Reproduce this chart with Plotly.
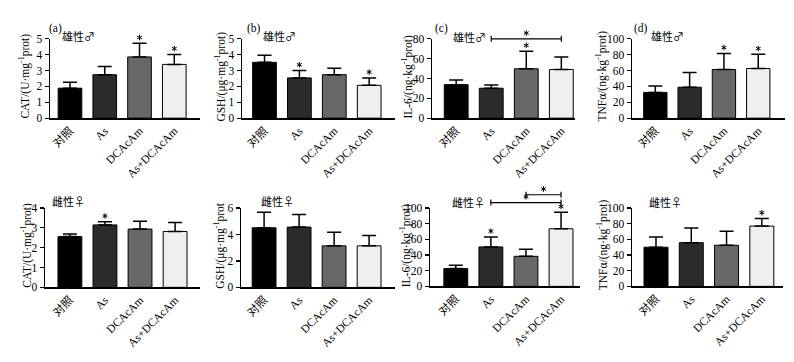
import plotly.graph_objects as go

# ---------------- data ----------------
categories = ["对照", "As", "DCAcAm", "As+DCAcAm"]

male_cat_mean = [1.89, 2.74, 3.86, 3.39]
male_cat_err = [0.37, 0.51, 0.86, 0.63]
male_cat_sig = [0, 0, 1, 1]

male_gsh_mean = [3.52, 2.54, 2.74, 2.07]
male_gsh_err = [0.44, 0.46, 0.41, 0.47]
male_gsh_sig = [0, 1, 0, 1]

male_il6_mean = [33.8, 30.2, 49.8, 49.1]
male_il6_err = [4.6, 3.3, 17.8, 12.7]
male_il6_sig = [0, 0, 1, 0]
male_il6_brackets = [(1, 3, 80)]

male_tnf_mean = [32.5, 39.0, 61.4, 62.6]
male_tnf_err = [8.2, 18.7, 20.3, 17.9]
male_tnf_sig = [0, 0, 1, 1]

female_cat_mean = [2.56, 3.15, 2.94, 2.82]
female_cat_err = [0.13, 0.16, 0.39, 0.45]
female_cat_sig = [0, 1, 0, 0]

female_gsh_mean = [4.51, 4.56, 3.14, 3.14]
female_gsh_err = [1.18, 0.95, 1.03, 0.78]
female_gsh_sig = [0, 0, 0, 0]

female_il6_mean = [22.7, 50.4, 38.4, 73.6]
female_il6_err = [4.2, 12.8, 9.1, 21.0]
female_il6_sig = [0, 1, 0, 1]
female_il6_brackets = [(1, 3, 107), (2, 3, 117)]

female_tnf_mean = [50.0, 55.8, 52.5, 77.0]
female_tnf_err = [12.9, 18.8, 17.9, 9.7]
female_tnf_sig = [0, 0, 0, 1]

bar_colors = ["#000000", "#2b2b2b", "#686868", "#efefef"]

male_label = "雄性♂"
female_label = "雌性♀"

# ---------------- layout constants ----------------
W, H = 794, 362
def px(x): return x / W
def py(y): return 1 - y / H

SERIF = "Liberation Serif, Noto Sans CJK SC"
CJK = "Noto Sans CJK SC"
STAR_GAP = 6  # px between error-bar top / bracket and star centre
STAR_PATH = "M0,-2.8L0,2.8M-2.4,-1.4L2.4,1.4M-2.4,1.4L2.4,-1.4"  # 6-arm asterisk, px

panels = [
    dict(mean=male_cat_mean, err=male_cat_err, sig=male_cat_sig, br=[],
         ytitle="CAT/(U·mg<sup>-1</sup>prot)", yr=[0, 5], dt=1,
         box=(50, 200, 34, 116), xr=[-0.575, 3.74], tx=25, tag="(a)", tagx=47,
         sex=male_label, sexx=60, sexy=31),
    dict(mean=male_gsh_mean, err=male_gsh_err, sig=male_gsh_sig, br=[],
         ytitle="GSH/(μg·mg<sup>-1</sup>prot)", yr=[0, 5], dt=1,
         box=(242, 395, 34, 116), xr=[-0.645, 3.74], tx=221, tag="(b)", tagx=245,
         sex=male_label, sexx=261, sexy=31),
    dict(mean=male_il6_mean, err=male_il6_err, sig=male_il6_sig, br=male_il6_brackets,
         ytitle="IL-6/(ng·kg<sup>-1</sup>prot)", yr=[0, 80], dt=20,
         box=(432, 575, 34, 116), xr=[-0.69, 3.39], tx=408, tag="(c)", tagx=433,
         sex=male_label, sexx=451, sexy=32),
    dict(mean=male_tnf_mean, err=male_tnf_err, sig=male_tnf_sig, br=[],
         ytitle="TNFα/(ng·kg<sup>-1</sup>prot)", yr=[0, 100], dt=20,
         box=(632, 785, 34, 116), xr=[-0.68, 3.78], tx=602, tag="(d)", tagx=632,
         sex=male_label, sexx=649, sexy=31),
    dict(mean=female_cat_mean, err=female_cat_err, sig=female_cat_sig, br=[],
         ytitle="CAT/(U·mg<sup>-1</sup>prot)", yr=[0, 4], dt=1,
         box=(45, 200, 209, 291), xr=[-0.71, 3.71], tx=27, tag=None, tagx=0,
         sex=female_label, sexx=50, sexy=202),
    dict(mean=female_gsh_mean, err=female_gsh_err, sig=female_gsh_sig, br=[],
         ytitle="GSH/(μg·mg<sup>-1</sup>prot", yr=[0, 6], dt=2,
         box=(241, 395, 209, 291), xr=[-0.66, 3.74], tx=220, tag=None, tagx=0,
         sex=female_label, sexx=259, sexy=202),
    dict(mean=female_il6_mean, err=female_il6_err, sig=female_il6_sig, br=female_il6_brackets,
         ytitle="IL-6/(ng·kg<sup>-1</sup>prot)", yr=[0, 100], dt=20,
         box=(430, 580, 209, 290), xr=[-0.735, 3.54], tx=405, tag=None, tagx=0,
         sex=female_label, sexx=450, sexy=203),
    dict(mean=female_tnf_mean, err=female_tnf_err, sig=female_tnf_sig, br=[],
         ytitle="TNFα/(ng·kg<sup>-1</sup>prot)", yr=[0, 100], dt=20,
         box=(632, 783, 209, 290), xr=[-0.68, 3.6], tx=602, tag=None, tagx=0,
         sex=female_label, sexx=647, sexy=203),
]

fig = go.Figure()
annotations = []
shapes = []
xidx = list(range(len(categories)))

for i, p in enumerate(panels):
    n = "" if i == 0 else str(i + 1)
    xa, ya = "x" + n, "y" + n
    x0, x1, yt, yb = p["box"]
    yr0, yr1 = p["yr"]
    xr0, xr1 = p["xr"]
    frac_per_px = 1.0 / (yb - yt)

    fig.add_trace(go.Bar(
        x=xidx, y=p["mean"], xaxis=xa, yaxis=ya,
        marker=dict(color=bar_colors, line=dict(color="#000000", width=1)),
        width=0.68,
        error_y=dict(type="data", symmetric=False, array=p["err"],
                     arrayminus=[0] * len(p["err"]),
                     color="#000000", thickness=1.5, width=7),
        showlegend=False, hoverinfo="skip",
    ))
    fig.layout["xaxis" + n] = dict(
        domain=[px(x0), px(x1)], anchor=ya, range=p["xr"],
        tickmode="array", tickvals=xidx, ticktext=categories,
        showline=True, linecolor="#000000", linewidth=1.5, ticks="",
        tickangle=-45, tickfont=dict(family=SERIF, size=11.5, color="#000000"),
        showgrid=False, zeroline=False, fixedrange=True,
    )
    fig.layout["yaxis" + n] = dict(
        domain=[py(yb), py(yt)], anchor=xa, range=p["yr"], dtick=p["dt"], tick0=0,
        showline=True, linecolor="#000000", linewidth=1.5, ticks="outside",
        ticklen=4, tickwidth=1.2, tickcolor="#000000",
        tickfont=dict(family=SERIF, size=11.5, color="#000000"),
        showgrid=False, zeroline=False, fixedrange=True,
    )
    # y-axis title
    annotations.append(dict(
        text=p["ytitle"], textangle=-90, xref="paper", yref="paper",
        x=px(p["tx"]), y=py((yt + yb) / 2 - 2), xanchor="center", yanchor="middle",
        showarrow=False, font=dict(family=SERIF, size=11.5, color="#000000"),
    ))
    # panel tag
    if p["tag"]:
        annotations.append(dict(
            text=p["tag"], xref="paper", yref="paper", x=px(p["tagx"]), y=py(23),
            xanchor="left", yanchor="middle", showarrow=False,
            font=dict(family=SERIF, size=11.5, color="#000000"),
        ))
    annotations.append(dict(
        text=p["sex"], xref="paper", yref="paper", x=px(p["sexx"]), y=py(p["sexy"]),
        xanchor="left", yanchor="middle", showarrow=False,
        font=dict(family=CJK, size=11, color="#000000"),
    ))

    def fx(v): return (v - xr0) / (xr1 - xr0)
    def fy(v): return (v - yr0) / (yr1 - yr0)

    # significance stars (above error bars and above brackets)
    star_pos = []
    for k, (m, e, s) in enumerate(zip(p["mean"], p["err"], p["sig"])):
        if s:
            star_pos.append((k, m + e))
    for a, b, yv in p["br"]:
        shapes.append(dict(type="line", xref=xa + " domain", yref=ya + " domain",
                           x0=fx(a), x1=fx(b), y0=fy(yv), y1=fy(yv),
                           line=dict(color="#000000", width=1.2)))
        for c in (a, b):
            shapes.append(dict(type="line", xref=xa + " domain", yref=ya + " domain",
                               x0=fx(c), x1=fx(c),
                               ysizemode="pixel", yanchor=fy(yv), y0=-3, y1=3,
                               line=dict(color="#000000", width=1.2)))
        star_pos.append(((a + b) / 2, yv))
    for sxv, syv in star_pos:
        shapes.append(dict(type="path", xref=xa + " domain", yref=ya + " domain",
                           xsizemode="pixel", ysizemode="pixel",
                           xanchor=fx(sxv), yanchor=fy(syv) + STAR_GAP * frac_per_px,
                           path=STAR_PATH, line=dict(color="#000000", width=1)))

fig.update_layout(
    width=W, height=H, margin=dict(l=0, r=0, t=0, b=0),
    paper_bgcolor="#ffffff", plot_bgcolor="#ffffff",
    annotations=annotations, shapes=shapes, bargap=0.3,
)

fig.write_html(
    "out.html",
    config={"displayModeBar": False, "staticPlot": True},
    post_script="document.body.style.margin='0';document.body.style.overflow='hidden';",
)
